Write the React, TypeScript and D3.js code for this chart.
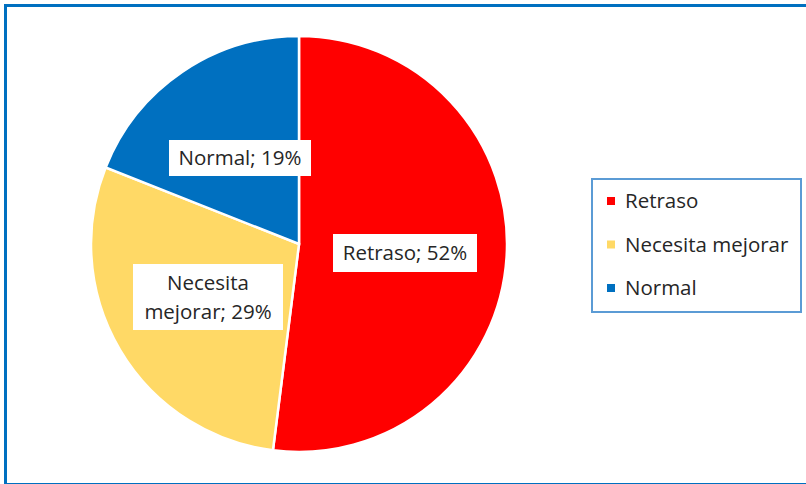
import React from "react";
import * as d3 from "d3";

const categories = ["Retraso", "Necesita mejorar", "Normal"];
const values = [52, 29, 19];
const colors = ["#FF0000", "#FFD966", "#0070C0"];
const labelLines = [["Retraso; 52%"], ["Necesita", "mejorar; 29%"], ["Normal; 19%"]];

export default function App() {
  const W = 806, H = 484;
  const cx = 299, cy = 244, r = 208;
  const pie = d3.pie<number>().sort(null).value((d) => d);
  const arcs = pie(values);
  const arcGen = d3.arc<d3.PieArcDatum<number>>().innerRadius(0).outerRadius(r);
  const font = "Open Sans, sans-serif";
  const fs = 20.5;
  const labelPos = [
    { x: 405, y: 253, w: 144, h: 38 },
    { x: 208, y: 297, w: 150, h: 66 },
    { x: 240, y: 158, w: 142, h: 36 },
  ];
  return (
    <div style={{ position: "absolute", left: 0, top: 0, width: W, height: H }}>
      <svg width={W} height={H} style={{ display: "block" }}>
        <rect x={0} y={0} width={W} height={H} fill="#fff" />
        <rect x={5.5} y={5.5} width={W + 10} height={H - 5} fill="#fff" stroke="#0070C0" strokeWidth={3} />
        <g transform={`translate(${cx},${cy})`}>
          {arcs.map((a, i) => (
            <path key={i} d={arcGen(a) || ""} fill={colors[i]} stroke="#fff" strokeWidth={2.5} />
          ))}
        </g>
        {labelPos.map((p, i) => (
          <g key={i}>
            <rect x={p.x - p.w / 2} y={p.y - p.h / 2} width={p.w} height={p.h} fill="#fff" />
            {labelLines[i].map((t, j) => (
              <text
                key={j}
                x={p.x}
                y={p.y + (j - (labelLines[i].length - 1) / 2) * 29}
                dy="0.36em"
                textAnchor="middle"
                fontFamily={font}
                fontSize={fs}
                fill="#262626"
              >
                {t}
              </text>
            ))}
          </g>
        ))}
        <rect x={592} y={179} width={209} height={133} fill="#fff" stroke="#5B9BD5" strokeWidth={2} />
        {categories.map((c, i) => (
          <g key={c} transform={`translate(607,${201 + i * 43.5})`}>
            <rect x={0} y={-4} width={8} height={8} fill={colors[i]} />
            <text x={18} y={0} dy="0.36em" fontFamily={font} fontSize={fs} fill="#262626">
              {c}
            </text>
          </g>
        ))}
      </svg>
    </div>
  );
}
